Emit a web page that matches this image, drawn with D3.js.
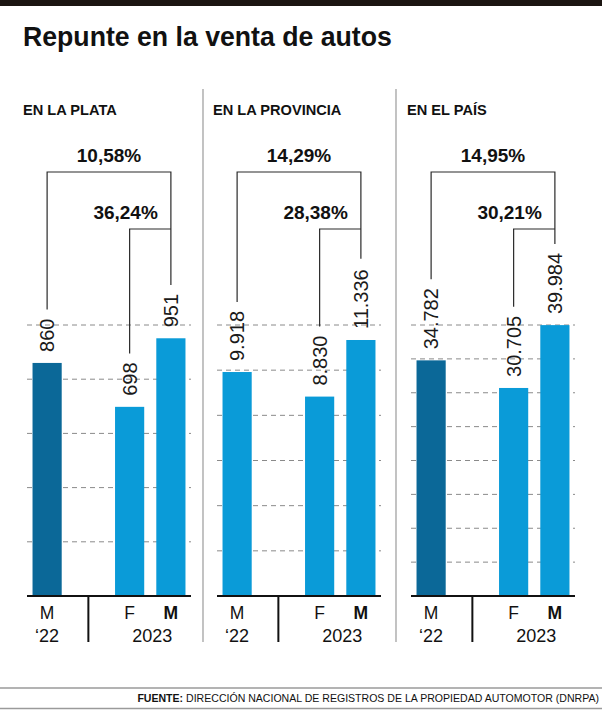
<!DOCTYPE html>
<html><head><meta charset="utf-8">
<script src="https://cdn.jsdelivr.net/npm/d3@7"></script>
<style>body{margin:0;background:#fff}svg{display:block}</style>
</head><body>
<script>
// ---- data ----
const titleText = "Repunte en la venta de autos";
const panelTitles = ["EN LA PLATA", "EN LA PROVINCIA", "EN EL PAÍS"];
const slots = ["M22", "gap", "F23", "M23"];
const barCats = ["M22", "F23", "M23"];
const monthLabels = ["M", "F", "M"];
const yearLabels = ["‘22", "2023"];
const valuesLaPlata = [860, 698, 951];
const valuesProvincia = [9918, 8830, 11336];
const valuesPais = [34782, 30705, 39984];
const pctYearOnYear = ["10,58%", "14,29%", "14,95%"];
const pctMonthOnMonth = ["36,24%", "28,38%", "30,21%"];
const gridLaPlata = [200, 400, 600, 800, 1000];
const gridProvincia = [2000, 4000, 6000, 8000, 10000, 12000];
const gridPais = [5000, 10000, 15000, 20000, 25000, 30000, 35000, 40000];
const firstBarDark = [true, false, true];
const sourceBold = "FUENTE:";
const sourceText = " DIRECCIÓN NACIONAL DE REGISTROS DE LA PROPIEDAD AUTOMOTOR (DNRPA)";

const seriesValues = [valuesLaPlata, valuesProvincia, valuesPais];
const seriesGrid = [gridLaPlata, gridProvincia, gridPais];

// ---- layout ----
const W = 602, H = 711;
const FONT = "'Liberation Sans', Arial, Helvetica, sans-serif";
const DARK = "#0b6898", LIGHT = "#0a9bd8";
const axisStarts = [27, 217, 411];
const axisW = 164;
const baseY = 596, topY = 325;
const dividersX = [203, 396];

const fmt = d3.formatLocale({decimal: ",", thousands: ".", grouping: [3], currency: ["$", ""]}).format(",d");

const svg = d3.select("body").append("svg").attr("width", W).attr("height", H)
  .style("font-family", FONT);

svg.append("rect").attr("x", 0).attr("y", 0).attr("width", W).attr("height", 6).attr("fill", "#1b1511");

// title, fitted horizontally to the reference width
const tg = svg.append("g").attr("transform", "translate(23,46)");
const tt = tg.append("text").attr("font-size", 28).attr("font-weight", 700).attr("fill", "#111").text(titleText);
const tw = tt.node().getComputedTextLength();
tt.attr("transform", `scale(${369 / tw},1)`);

// dividers
svg.selectAll("line.div").data(dividersX).join("line").attr("class", "div")
  .attr("x1", d => d).attr("x2", d => d).attr("y1", 89).attr("y2", 642)
  .attr("stroke", "#9a9a9a").attr("stroke-width", 1.2);

panelTitles.forEach((pt, i) => {
  const ax0 = axisStarts[i];
  const g = svg.append("g");
  const vals = seriesValues[i];
  const x = d3.scaleBand().domain(slots).range([ax0, ax0 + axisW]).paddingInner(0.293).paddingOuter(0.134);
  const y = d3.scaleLinear().domain([0, seriesGrid[i][seriesGrid[i].length - 1]]).range([baseY, topY]);
  const bw = x.bandwidth();
  const cx = c => x(c) + bw / 2;

  g.append("text").attr("x", ax0 - 4).attr("y", 115).attr("font-size", 14.6).attr("font-weight", 700)
    .attr("fill", "#111").text(pt);

  // gridlines
  g.selectAll("line.grid").data(seriesGrid[i]).join("line").attr("class", "grid")
    .attr("x1", ax0).attr("x2", ax0 + axisW).attr("y1", d => y(d)).attr("y2", d => y(d))
    .attr("stroke", "#8a8a8a").attr("stroke-width", 1).attr("stroke-dasharray", "5,4");

  // bars
  g.selectAll("rect.bar").data(vals).join("rect").attr("class", "bar")
    .attr("x", (d, j) => x(barCats[j])).attr("width", bw)
    .attr("y", d => y(d)).attr("height", d => baseY - y(d))
    .attr("fill", (d, j) => (j === 0 && firstBarDark[i]) ? DARK : LIGHT);

  // value labels (rotated)
  const labelFont = 20;
  g.selectAll("text.val").data(vals).join("text").attr("class", "val")
    .attr("transform", (d, j) => `translate(${cx(barCats[j])},${y(d) - 11}) rotate(-90)`)
    .attr("dy", "0.36em").attr("font-size", labelFont).attr("fill", "#1a1a1a")
    .text(d => fmt(d));

  // brackets
  const labelTop = j => {
    const s = fmt(vals[j]);
    const len = s.replace(/\./g, "").length * 0.556 + (s.match(/\./g) || []).length * 0.278;
    return y(vals[j]) - 11 - len * labelFont - 9;
  };
  const outerY = 172, innerY = 229;
  const lineStyle = sel => sel.attr("fill", "none").attr("stroke", "#2a2a2a").attr("stroke-width", 1.2);
  g.append("path").call(lineStyle)
    .attr("d", `M${cx("M22")},${labelTop(0)}V${outerY}H${cx("M23")}V${labelTop(2)}`);
  g.append("path").call(lineStyle)
    .attr("d", `M${cx("F23")},${labelTop(1)}V${innerY}H${cx("M23")}`);

  g.append("text").attr("x", (cx("M22") + cx("M23")) / 2).attr("y", outerY - 10)
    .attr("text-anchor", "middle").attr("font-size", 19).attr("font-weight", 700).attr("fill", "#111")
    .text(pctYearOnYear[i]);
  g.append("text").attr("x", cx("F23") - 4).attr("y", innerY - 10)
    .attr("text-anchor", "middle").attr("font-size", 19).attr("font-weight", 700).attr("fill", "#111")
    .text(pctMonthOnMonth[i]);

  // axis baseline
  g.append("line").attr("x1", ax0).attr("x2", ax0 + axisW).attr("y1", baseY).attr("y2", baseY)
    .attr("stroke", "#111").attr("stroke-width", 2);
  // year separator tick
  const sepX = cx("gap");
  g.append("line").attr("x1", sepX).attr("x2", sepX).attr("y1", baseY).attr("y2", 642)
    .attr("stroke", "#111").attr("stroke-width", 2);

  // month labels
  g.selectAll("text.mon").data(barCats).join("text").attr("class", "mon")
    .attr("x", d => cx(d)).attr("y", 619).attr("text-anchor", "middle")
    .attr("font-size", 17.5).attr("font-weight", (d, j) => j === 2 ? 700 : 400).attr("fill", "#111")
    .text((d, j) => monthLabels[j]);
  // year labels
  g.append("text").attr("x", cx("M22")).attr("y", 642).attr("text-anchor", "middle")
    .attr("font-size", 18).attr("fill", "#111").text(yearLabels[0]);
  g.append("text").attr("x", (cx("F23") + cx("M23")) / 2 + 2).attr("y", 642).attr("text-anchor", "middle")
    .attr("font-size", 18).attr("fill", "#111").text(yearLabels[1]);
});

// footer
svg.append("line").attr("x1", 0).attr("x2", W).attr("y1", 688).attr("y2", 688).attr("stroke", "#9a9a9a").attr("stroke-width", 1.5);
svg.append("line").attr("x1", 0).attr("x2", W).attr("y1", 708.5).attr("y2", 708.5).attr("stroke", "#9a9a9a").attr("stroke-width", 1.5);
const fg = svg.append("g").attr("transform", "translate(599,702)");
const ft = fg.append("text").attr("text-anchor", "end").attr("font-size", 11.5).attr("fill", "#111");
ft.append("tspan").attr("font-weight", 700).text(sourceBold);
ft.append("tspan").text(sourceText);
const fw = ft.node().getComputedTextLength();
ft.attr("transform", `scale(${Math.min(1, 462 / fw)},1)`);
</script>
</body></html>
